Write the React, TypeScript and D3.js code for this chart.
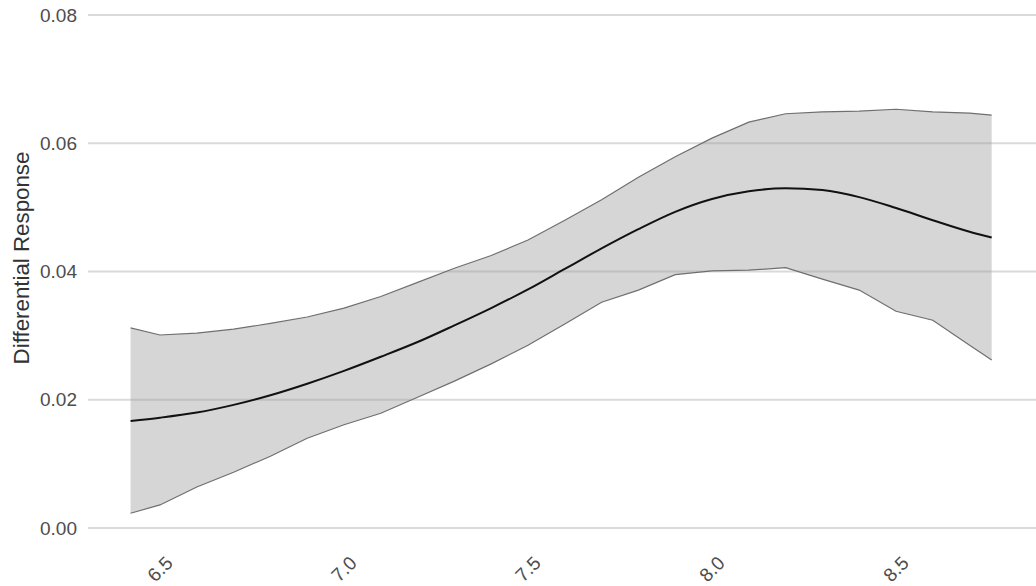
import React from "react";
import * as d3 from "d3";

// pH grid along the fitted smooth
const ph = [6.42, 6.5, 6.6, 6.7, 6.8, 6.9, 7.0, 7.1, 7.2, 7.3, 7.4, 7.5, 7.6, 7.7, 7.8, 7.9, 8.0, 8.1, 8.2, 8.3, 8.4, 8.5, 8.6, 8.7, 8.76];

// fitted differential response
const fit = [0.0167, 0.0172, 0.0180, 0.0192, 0.0207, 0.0225, 0.0245, 0.0267, 0.0290, 0.0316, 0.0343, 0.0372, 0.0404, 0.0436, 0.0466, 0.0493, 0.0513, 0.0525, 0.0530, 0.0527, 0.0516, 0.0499, 0.0480, 0.0462, 0.0453];

// confidence band
const upper = [0.0312, 0.0301, 0.0304, 0.0310, 0.0319, 0.0329, 0.0343, 0.0361, 0.0383, 0.0405, 0.0425, 0.0449, 0.0480, 0.0512, 0.0547, 0.0579, 0.0608, 0.0633, 0.0646, 0.0649, 0.0650, 0.0653, 0.0649, 0.0647, 0.0644];
const lower = [0.0023, 0.0036, 0.0064, 0.0087, 0.0112, 0.0140, 0.0161, 0.0179, 0.0204, 0.0229, 0.0256, 0.0285, 0.0318, 0.0352, 0.0371, 0.0395, 0.0401, 0.0402, 0.0406, 0.0388, 0.0371, 0.0338, 0.0324, 0.0285, 0.0262];

const yTicks = [0, 0.02, 0.04, 0.06, 0.08];
const xTicks = [6.5, 7.0, 7.5, 8.0, 8.5];

const W = 1036;
const H = 586;
const FONT = "'Liberation Sans', Arial, Helvetica, sans-serif";

type Row = { p: number; fit: number; lo: number; hi: number };

export default function App() {
  const x = d3.scaleLinear().domain([6.5, 8.5]).range([160, 896]);
  const y = d3.scaleLinear().domain([0, 0.08]).range([528, 15]);
  const panelLeft = 88;

  const rows: Row[] = ph.map((p, i) => ({ p, fit: fit[i], lo: lower[i], hi: upper[i] }));

  const area = d3
    .area<Row>()
    .x((d) => x(d.p))
    .y0((d) => y(d.lo))
    .y1((d) => y(d.hi));
  const hiLine = d3.line<Row>().x((d) => x(d.p)).y((d) => y(d.hi));
  const loLine = d3.line<Row>().x((d) => x(d.p)).y((d) => y(d.lo));
  const fitLine = d3
    .line<Row>()
    .x((d) => x(d.p))
    .y((d) => y(d.fit))
    .curve(d3.curveMonotoneX);

  return (
    <svg
      width={W}
      height={H}
      style={{ position: "absolute", left: 0, top: 0, display: "block", background: "#fff" }}
      fontFamily={FONT}
    >
      {/* horizontal grid */}
      {yTicks.map((t) => (
        <line key={t} x1={panelLeft} x2={W} y1={y(t)} y2={y(t)} stroke="#dadada" strokeWidth={2} />
      ))}

      {/* confidence ribbon */}
      <path d={area(rows) ?? ""} fill="#999999" fillOpacity={0.4} stroke="none" />
      <path d={hiLine(rows) ?? ""} fill="none" stroke="#6f6f6f" strokeWidth={1.2} />
      <path d={loLine(rows) ?? ""} fill="none" stroke="#6f6f6f" strokeWidth={1.2} />

      {/* fitted curve */}
      <path d={fitLine(rows) ?? ""} fill="none" stroke="#111" strokeWidth={2} />

      {/* y tick labels */}
      {yTicks.map((t) => (
        <text key={t} x={77} y={y(t)} dy="0.35em" textAnchor="end" fontSize={19} fill="#4d4d4d">
          {d3.format(".2f")(t)}
        </text>
      ))}

      {/* x tick labels */}
      {xTicks.map((t) => (
        <text
          key={t}
          transform={`translate(${x(t)},${569}) rotate(-45)`}
          textAnchor="middle"
          dy="0.35em"
          fontSize={19}
          fill="#4d4d4d"
        >
          {d3.format(".1f")(t)}
        </text>
      ))}

      {/* y axis title */}
      <text
        transform={`translate(29,258) rotate(-90)`}
        textAnchor="middle"
        fontSize={22.3}
        fill="#333"
      >
        Differential Response
      </text>
    </svg>
  );
}
